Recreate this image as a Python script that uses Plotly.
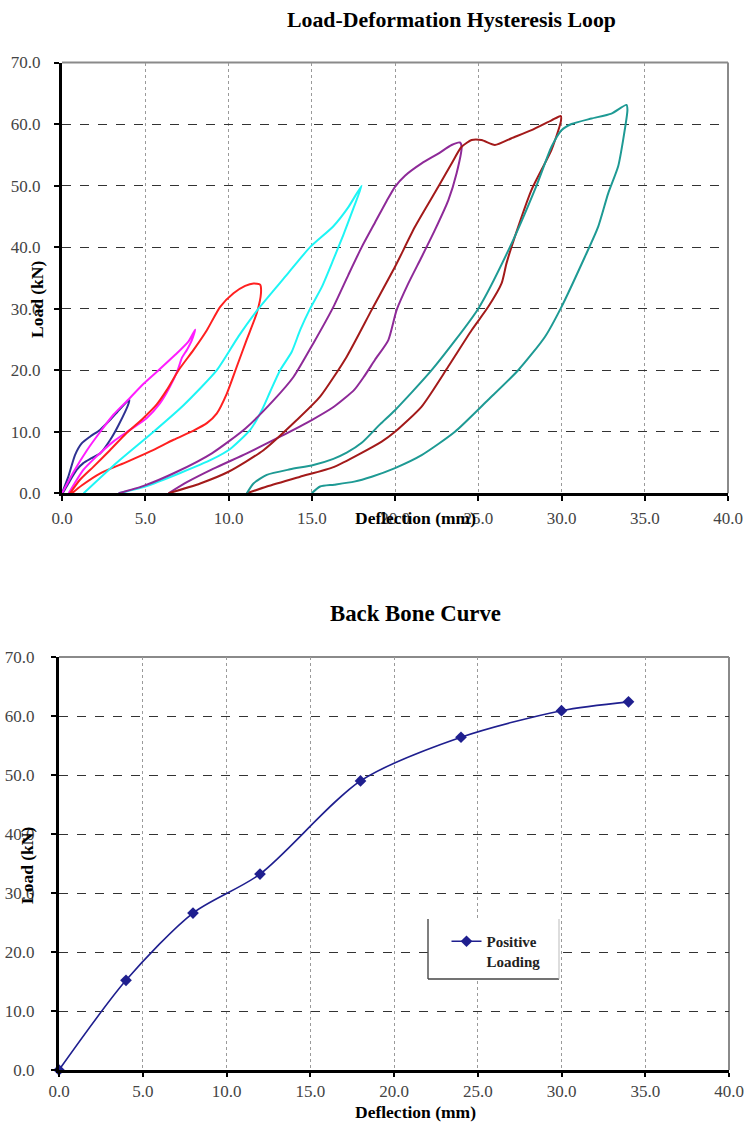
import plotly.graph_objects as go

# ---------------- Hysteresis loop data (Deflection mm, Load kN) ----------------
blue_x = [0, 0.38, 0.78, 1.18, 1.68, 2.28, 2.88, 3.48, 4.04, 4.0, 3.4, 2.9, 2.3, 1.78, 1.28, 0.88, 0.38, 0.04]
blue_y = [0, 2.7, 6.2, 8.1, 9.2, 10.3, 11.9, 13.7, 15.2, 14.6, 11.1, 8.7, 6.5, 5.7, 4.9, 3.8, 1.6, 0]

magenta_x = [0, 0.7, 1.5, 2.3, 3.1, 3.9, 4.9, 5.8, 6.8, 7.6, 8.0,
             7.8, 7.5, 7.2, 6.95, 6.48, 5.88, 5.08, 4.08, 3.08, 2.08, 1.28, 0.4]
magenta_y = [0, 3.5, 7.0, 10.0, 12.8, 15.0, 17.8, 20.0, 22.5, 24.7, 26.6,
             24.9, 23.3, 22.0, 20.0, 17.3, 14.6, 12.2, 10.3, 8.4, 6.0, 3.8, 0]

red_x = [0.48, 1.08, 1.88, 2.88, 3.88, 4.88, 5.68, 6.3, 7.0, 7.9, 8.7, 9.5, 10.3, 11.0, 11.5, 11.9,
         11.95, 11.7, 11.1, 10.5, 9.9, 9.3, 8.7, 7.9, 6.7, 5.3, 3.9, 2.3, 1.2, 0.6]
red_y = [0, 2.2, 4.3, 7.0, 9.8, 12.2, 14.4, 16.8, 20.0, 23.3, 26.5, 30.3, 32.5, 33.7, 34.1, 33.9,
         32.5, 29.3, 25.0, 20.6, 16.2, 13.0, 11.4, 10.2, 8.7, 6.8, 5.1, 3.25, 1.3, 0]

cyan_x = [1.3, 3.3, 5.5, 7.3, 9.3, 10.6, 11.8, 13.5, 14.9, 16.3, 17.2, 18.0,
          17.5, 16.9, 16.3, 15.6, 14.9, 14.3, 13.8, 13.1, 12.5, 12.0, 11.3, 10.1, 9.0, 7.1, 5.0, 3.4]
cyan_y = [0, 5.0, 10.0, 14.3, 20.0, 25.5, 30.0, 35.5, 40.0, 43.4, 46.5, 50.0,
          46.3, 42.0, 38.0, 33.5, 30.0, 26.5, 23.0, 20.0, 16.5, 13.5, 10.3, 7.2, 5.5, 3.3, 1.1, 0]

purple_x = [3.4, 4.9, 6.9, 9.0, 11.0, 12.7, 13.9, 15.1, 16.3, 17.2, 18.0, 18.8, 19.5, 20.0, 20.6, 21.6, 22.6, 23.4, 23.9,
            24.0, 23.7, 23.2, 22.4, 21.6, 20.8, 20.1, 19.6, 18.8, 18.15, 17.55, 16.35, 15.0, 13.1, 11.1, 9.1, 7.5, 6.4]
purple_y = [0, 1.2, 3.5, 6.5, 10.5, 15.1, 18.9, 24.4, 30.3, 35.5, 40.0, 44.0, 47.5, 49.8, 51.6, 53.6, 55.2, 56.6, 57.0,
            56.3, 52.0, 47.6, 42.8, 38.4, 34.1, 29.8, 24.9, 21.7, 19.0, 16.8, 14.1, 11.9, 9.2, 6.5, 4.0, 1.8, 0]

darkred_x = [6.4, 8.3, 10.0, 12.1, 14.1, 15.5, 17.1, 18.6, 20.0, 21.2, 22.6, 23.4, 24.0, 24.6, 25.2, 26.0, 27.0, 28.2, 29.4, 29.96,
             29.96, 29.4, 28.2, 27.2, 26.7, 26.4, 25.6, 24.6, 23.2, 21.6, 20.0, 19.2, 16.35, 14.3, 12.3, 11.1]
darkred_y = [0, 1.6, 3.5, 7.0, 11.9, 15.7, 22.2, 29.8, 36.8, 43.3, 49.8, 53.6, 56.3, 57.4, 57.4, 56.6, 57.7, 59.0, 60.6, 61.3,
             60.4, 55.8, 49.3, 41.7, 37.4, 34.1, 30.3, 26.5, 20.6, 14.1, 10.0, 8.4, 4.3, 2.7, 1.1, 0]

teal_x = [11.1, 11.5, 12.3, 13.7, 15.1, 16.3, 17.1, 18.0, 19.1, 20.0, 22.2, 25.0, 26.9, 28.5, 29.4, 30.0, 30.6, 31.8, 33.0, 33.9,
          33.96, 33.7, 33.4, 32.8, 32.2, 31.4, 30.0, 29.0, 27.4, 25.6, 23.6, 21.6, 20.0, 18.6, 17.55, 16.35, 15.5, 15.0]
teal_y = [0, 1.6, 3.0, 3.9, 4.6, 5.6, 6.6, 8.2, 11.2, 13.5, 20.0, 30.0, 40.0, 50.0, 56.3, 59.0, 60.0, 60.9, 61.7, 63.1,
          62.3, 57.4, 53.1, 48.7, 43.3, 38.4, 30.3, 25.4, 20.0, 15.2, 10.0, 6.2, 4.1, 2.7, 1.9, 1.4, 1.1, 0]

loops = [
    ("4 mm", blue_x, blue_y, "#2E3192"),
    ("8 mm", magenta_x, magenta_y, "#FF1EFF"),
    ("12 mm", red_x, red_y, "#FF2020"),
    ("18 mm", cyan_x, cyan_y, "#1EF5F5"),
    ("24 mm", purple_x, purple_y, "#8E2A98"),
    ("30 mm", darkred_x, darkred_y, "#A31A1A"),
    ("34 mm", teal_x, teal_y, "#1E9A94"),
]

# ---------------- Back bone data ----------------
bb_x = [0, 4, 8, 12, 18, 24, 30, 34]
bb_y = [0, 15.2, 26.6, 33.2, 49.0, 56.4, 60.9, 62.4]

x_ticks = [0, 5, 10, 15, 20, 25, 30, 35, 40]
y_ticks = [0, 10, 20, 30, 40, 50, 60, 70]

W, H = 745, 1124
SERIF = "Liberation Serif, Times New Roman, serif"

fig = go.Figure()

for name, xs, ys, col in loops:
    fig.add_trace(go.Scatter(x=xs, y=ys, mode="lines", name=name, showlegend=False,
                             line=dict(color=col, width=2, shape="spline", smoothing=0.6),
                             xaxis="x", yaxis="y"))

fig.add_trace(go.Scatter(x=bb_x, y=bb_y, mode="lines+markers", name="<b>Positive</b><br><b>Loading</b>",
                         line=dict(color="#1F1F8F", width=1.6, shape="spline", smoothing=0.8),
                         marker=dict(symbol="diamond", size=9, color="#1F1F8F"),
                         cliponaxis=False, xaxis="x2", yaxis="y2", showlegend=True))

def px_x(p):
    return p / W

def px_y(p):
    return 1 - p / H

top_dom_x = [px_x(62), px_x(728)]
top_dom_y = [px_y(493.3), px_y(62.5)]
bot_dom_x = [px_x(59), px_x(729)]
bot_dom_y = [px_y(1070), px_y(657)]

tickfont = dict(family=SERIF, size=17, color="#444444")

def xax(dom, anchor, standoff, ticklen):
    return dict(domain=dom, anchor=anchor, range=[0, 40], tickvals=x_ticks,
                ticktext=[f"{v:.1f}" for v in x_ticks], tickfont=tickfont,
                showgrid=True, gridcolor="#9a9a9a", griddash="dot", gridwidth=1,
                showline=True, linecolor="black", linewidth=3, zeroline=False,
                ticks="outside", ticklen=ticklen, tickwidth=2, tickcolor="black",
                ticklabelstandoff=standoff, ticklabeloverflow="allow",
                automargin=False, fixedrange=True)

def yax(dom, anchor, standoff):
    return dict(domain=dom, anchor=anchor, range=[0, 70], tickvals=y_ticks,
                ticktext=[f"{v:.1f}" for v in y_ticks], tickfont=tickfont,
                showgrid=True, gridcolor="#333333", griddash="dash", gridwidth=1,
                showline=True, linecolor="black", linewidth=3, zeroline=False,
                ticks="outside", ticklen=5, tickwidth=2, tickcolor="black",
                ticklabelstandoff=standoff, ticklabeloverflow="allow",
                automargin=False, fixedrange=True)

shapes = []
for xa, ya in (("x", "y"), ("x2", "y2")):
    shapes.append(dict(type="line", xref=f"{xa} domain", yref=f"{ya} domain",
                       x0=0, x1=1, y0=1, y1=1, line=dict(color="#8a8a8a", width=2), layer="below"))
    shapes.append(dict(type="line", xref=f"{xa} domain", yref=f"{ya} domain",
                       x0=1, x1=1, y0=0, y1=1, line=dict(color="#8a8a8a", width=2), layer="below"))

# legend box (white fill with left/bottom dark edges)
lx0, lx1, ly0, ly1 = 428, 559, 919, 979
shapes.append(dict(type="rect", xref="paper", yref="paper", x0=px_x(lx0), x1=px_x(lx1),
                   y0=px_y(ly1), y1=px_y(ly0), fillcolor="white", line=dict(width=0), layer="above"))
shapes.append(dict(type="line", xref="paper", yref="paper", x0=px_x(lx0), x1=px_x(lx0),
                   y0=px_y(ly1), y1=px_y(ly0), line=dict(color="#555555", width=1.5), layer="above"))
shapes.append(dict(type="line", xref="paper", yref="paper", x0=px_x(lx0), x1=px_x(lx1),
                   y0=px_y(ly1), y1=px_y(ly1), line=dict(color="#444444", width=1.5), layer="above"))
shapes.append(dict(type="line", xref="paper", yref="paper", x0=px_x(lx1), x1=px_x(lx1),
                   y0=px_y(ly1), y1=px_y(ly0), line=dict(color="#bbbbbb", width=1), layer="above"))

labfont = dict(family=SERIF, size=17.5, color="black")
annotations = [
    dict(text="<b>Load-Deformation Hysteresis Loop</b>", x=px_x(451), y=px_y(20), xref="paper", yref="paper",
         showarrow=False, font=dict(family=SERIF, size=21.8, color="black"), xanchor="center", yanchor="middle"),
    dict(text="<b>Back Bone Curve</b>", x=px_x(415), y=px_y(613), xref="paper", yref="paper",
         showarrow=False, font=dict(family=SERIF, size=22.8, color="black"), xanchor="center", yanchor="middle"),
    dict(text="<b>Deflection (mm)</b>", x=px_x(416), y=px_y(518), xref="paper", yref="paper",
         showarrow=False, font=labfont, xanchor="center", yanchor="middle"),
    dict(text="<b>Deflection (mm)</b>", x=px_x(415), y=px_y(1112), xref="paper", yref="paper",
         showarrow=False, font=labfont, xanchor="center", yanchor="middle"),
    dict(text="<b>Load (kN)</b>", x=px_x(37), y=px_y(300), xref="paper", yref="paper",
         showarrow=False, font=labfont, textangle=-90, xanchor="center", yanchor="middle"),
    dict(text="<b>Load (kN)</b>", x=px_x(27), y=px_y(866), xref="paper", yref="paper",
         showarrow=False, font=labfont, textangle=-90, xanchor="center", yanchor="middle"),
]

fig.update_layout(
    width=W, height=H,
    margin=dict(l=0, r=0, t=0, b=0, pad=0, autoexpand=False),
    paper_bgcolor="white", plot_bgcolor="white",
    xaxis=xax(top_dom_x, "y", 2, 5),
    yaxis=yax(top_dom_y, "x", 10),
    xaxis2=xax(bot_dom_x, "y2", 0, 4),
    yaxis2=yax(bot_dom_y, "x2", 13),
    shapes=shapes,
    annotations=annotations,
    showlegend=True,
    legend=dict(x=px_x(446.5), y=px_y(925), xanchor="left", yanchor="top",
                bgcolor="rgba(0,0,0,0)", borderwidth=0, valign="top",
                font=dict(family=SERIF, size=15, color="#222222"),
                itemclick=False, itemdoubleclick=False),
)

fig.write_html("out.html",
               post_script="document.body.style.margin='0';document.body.style.overflow='hidden';")
